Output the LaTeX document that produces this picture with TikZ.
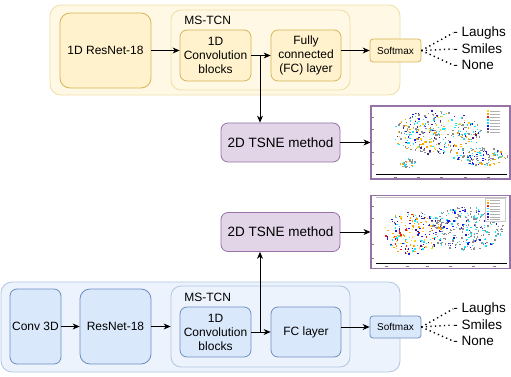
\documentclass[tikz,border=0pt]{standalone}
\usepackage{fontspec}
\setmainfont{Liberation Sans}
\usetikzlibrary{arrows.meta}

% box colours
\definecolor{ylwFill}{HTML}{FFF2CC}
\definecolor{ylwLine}{HTML}{D6B656}
\definecolor{ylwOuter}{HTML}{FFF8E4}
\definecolor{ylwOuterLine}{HTML}{F0DDA4}
\definecolor{bluFill}{HTML}{DAE8FC}
\definecolor{bluLine}{HTML}{6C8EBF}
\definecolor{bluOuter}{HTML}{EDF3FD}
\definecolor{bluOuterLine}{HTML}{AFC5E2}
\definecolor{purFill}{HTML}{E1D5E7}
\definecolor{purLine}{HTML}{9673A6}
% scatter colours
\definecolor{tsneGray}{HTML}{8C8C8C}
\definecolor{tsneCyan}{HTML}{18E6F2}
\definecolor{tsneOrange}{HTML}{FFA500}
\definecolor{tsneYellow}{HTML}{FFD21E}
\definecolor{tsneBlue}{HTML}{1A1AF0}
\definecolor{tsneRed}{HTML}{F01818}
\definecolor{tsnePurple}{HTML}{4B1A8C}

\tikzset{
  basebox/.style={draw, align=center, inner sep=1pt, font=\fontsize{12}{14}\selectfont},
  ylwbox/.style={basebox, fill=ylwFill, draw=ylwLine, rounded corners=7pt},
  blubox/.style={basebox, fill=bluFill, draw=bluLine, rounded corners=7pt},
  ylwgroup/.style={draw=ylwOuterLine, fill=ylwOuter, rounded corners=11pt},
  blugroup/.style={draw=bluOuterLine, fill=bluOuter, rounded corners=11pt},
  softbox/.style={basebox, rounded corners=3pt, font=\fontsize{10}{12}\selectfont},
  tsnebox/.style={basebox, fill=purFill, draw=purLine, rounded corners=7pt,
    minimum width=119pt, minimum height=39pt, font=\fontsize{13.5}{15}\selectfont},
  plotframe/.style={draw=purLine, line width=1.1pt, fill=white,
    minimum width=139pt, minimum height=73pt, inner sep=0pt},
  classlbl/.style={anchor=west, inner sep=0pt, font=\fontsize{13.5}{15}\selectfont},
  arr/.style={-{Stealth[length=7pt,width=6pt]}, line width=0.8pt},
  fan/.style={line width=1.4pt, dash pattern=on 1.3pt off 3.2pt},
}

% random cloud of t-SNE dots: n, cx, cy, rx, ry, colour list, list length
\newcommand{\tsnecloud}[7]{%
  \foreach \k in {1,...,#1}{%
    \pgfmathsetmacro{\dota}{360*rnd}%
    \pgfmathsetmacro{\dotr}{sqrt(rnd)}%
    \pgfmathsetmacro{\dotx}{#2+#4*\dotr*cos(\dota)}%
    \pgfmathsetmacro{\doty}{#3+#5*\dotr*sin(\dota)}%
    \pgfmathparse{{#6}[int(#7*rnd)]}%
    \edef\dotcol{\pgfmathresult}%
    \fill[\dotcol] (\dotx,\doty) rectangle ++(1.4,1.4);%
  }}

\begin{document}
\begin{tikzpicture}[x=1pt, y=-1pt, line width=0.8pt]
    \useasboundingbox (0,0) rectangle (511,377);
    \pgfmathsetseed{11}

    % ---------- top branch (yellow) ----------
    \node[ylwgroup, minimum width=350pt, minimum height=90pt] (outer1) at (225,50) {};
    \node[ylwbox, minimum width=91pt, minimum height=75pt, rounded corners=10pt] (resnet1) at (105.5,50.5) {1D ResNet-18};
    \node[ylwgroup, rounded corners=10pt, minimum width=179pt, minimum height=80pt] (tcn1) at (260.5,50) {};
    \node[anchor=west, inner sep=0pt, font=\fontsize{12}{14}\selectfont] (tcnlbl1) at (184,20) {MS-TCN};
    \node[ylwbox, minimum width=71pt, minimum height=51pt] (conv1) at (215.5,55.5) {1D\\Convolution\\blocks};
    \node[ylwbox, minimum width=70pt, minimum height=51pt] (fc1) at (306,55.5) {Fully\\connected\\(FC) layer};
    \node[softbox, fill=ylwFill, draw=ylwLine, minimum width=51pt, minimum height=23pt] (soft1) at (395.5,50.5) {Softmax};
    \node[classlbl] (laugh1) at (453,33) {- Laughs};
    \node[classlbl] (smile1) at (453,49) {- Smiles};
    \node[classlbl] (none1) at (453,65) {- None};

    \draw[arr] (resnet1.east) -- (resnet1.east -| conv1.west);
    \draw[arr] (conv1) -- (fc1);
    \draw[arr] (fc1.east |- soft1.west) -- (soft1.west);
    \draw[fan] (soft1.east) -- (laugh1.west);
    \draw[fan] (soft1.east) -- (smile1.west);
    \draw[fan] (soft1.east) -- (none1.west);

    % ---------- t-SNE of the top branch ----------
    \node[tsnebox] (tsne1) at (280.5,142.5) {2D TSNE method};
    \node[plotframe] (plot1) at (440.5,142.5) {};
    \coordinate (split1) at (260,55.5);
    \draw[arr] (split1) -- (split1 |- tsne1.north);
    \draw[arr] (tsne1.east) -- (tsne1.east -| plot1.west);

    \begin{scope}
      \clip (374,107) rectangle (508,173);
      \tsnecloud{320}{436}{132}{45}{22}{"tsneGray","tsneCyan","tsneOrange","tsneBlue","tsneYellow","tsneGray","tsneCyan","tsnePurple","tsneGray"}{9}
      \tsnecloud{120}{480}{156}{27}{9}{"tsneGray","tsneCyan","tsneBlue","tsneGray","tsneOrange"}{5}
      \tsnecloud{26}{407}{163}{8}{5}{"tsneGray","tsneGray","tsneCyan","tsneOrange"}{4}
    \end{scope}
    \draw[line width=0.8pt] (376,174) -- (507,174);
    \foreach \t in {117,129,152,164} \draw[gray, line width=0.5pt] (371,\t) -- (374,\t);
    \foreach \t in {395,418,441,465,488} \draw[gray, line width=0.5pt] (\t-1.5,177) -- (\t+1.5,177);
    \foreach \c [count=\r] in {tsneYellow,tsneOrange,tsneRed,tsneCyan,tsneCyan,tsneBlue,tsnePurple,tsneGray}{
      \fill[\c] (487,107+3*\r) rectangle ++(1.6,1.6);
      \draw[gray!60, line width=0.6pt] (490,108+3*\r) -- (500,108+3*\r);
    }

    % ---------- bottom branch (blue) ----------
    \node[blugroup, minimum width=399pt, minimum height=90pt] (outer2) at (200.5,327) {};
    \node[blubox, minimum width=51pt, minimum height=75pt] (conv3d) at (35.5,326.5) {Conv 3D};
    \node[blubox, minimum width=71pt, minimum height=75pt, rounded corners=10pt] (resnet2) at (115.5,326.5) {ResNet-18};
    \node[blugroup, rounded corners=10pt, minimum width=179pt, minimum height=81pt] (tcn2) at (260.5,326.5) {};
    \node[anchor=west, inner sep=0pt, font=\fontsize{12}{14}\selectfont] (tcnlbl2) at (184,297) {MS-TCN};
    \node[blubox, minimum width=71pt, minimum height=50pt] (conv2) at (215.5,332) {1D\\Convolution\\blocks};
    \node[blubox, minimum width=70pt, minimum height=50pt] (fc2) at (306,332) {FC layer};
    \node[softbox, fill=bluFill, draw=bluLine, minimum width=51pt, minimum height=22pt] (soft2) at (395.5,327) {Softmax};
    \node[classlbl] (laugh2) at (453,309) {- Laughs};
    \node[classlbl] (smile2) at (453,325) {- Smiles};
    \node[classlbl] (none2) at (453,341) {- None};

    \draw[arr] (conv3d) -- (resnet2);
    \draw[arr] (resnet2.east) -- (resnet2.east -| tcn2.west);
    \draw[arr] (conv2) -- (fc2);
    \draw[arr] (fc2.east |- soft2.west) -- (soft2.west);
    \draw[fan] (soft2.east) -- (laugh2.west);
    \draw[fan] (soft2.east) -- (smile2.west);
    \draw[fan] (soft2.east) -- (none2.west);

    % ---------- t-SNE of the bottom branch ----------
    \node[tsnebox] (tsne2) at (280.5,232) {2D TSNE method};
    \node[plotframe] (plot2) at (440.5,232) {};
    \coordinate (split2) at (260,332);
    \draw[arr] (split2) -- (split2 |- tsne2.south);
    \draw[arr] (tsne2.east) -- (tsne2.east -| plot2.west);

    \begin{scope}
      \clip (374,198) rectangle (508,262);
      \tsnecloud{200}{412}{232}{29}{22}{"tsneOrange","tsneYellow","tsneBlue","tsnePurple","tsneOrange","tsneRed","tsneCyan"}{7}
      \tsnecloud{290}{466}{228}{38}{22}{"tsneGray","tsneCyan","tsneGray","tsneBlue","tsneCyan","tsneGray"}{6}
    \end{scope}
    \draw[line width=0.8pt] (376,263) -- (507,263);
    \draw[gray!50, line width=0.6pt] (376,197) -- (507,197);
    \foreach \t in {206,218,244,258} \draw[gray, line width=0.5pt] (371,\t) -- (374,\t);
    \foreach \t in {386,407,427,450,473,494} \draw[gray, line width=0.5pt] (\t-1.5,266) -- (\t+1.5,266);
    \draw[gray!40, fill=white, line width=0.5pt] (485,198) rectangle (505,221);
    \foreach \c [count=\r] in {tsneYellow,tsneOrange,tsneRed,tsneCyan,tsneCyan,tsneBlue,tsnePurple,tsneGray}{
      \fill[\c] (487,197+2.7*\r) rectangle ++(1.6,1.6);
      \draw[gray!60, line width=0.6pt] (490,198+2.7*\r) -- (500,198+2.7*\r);
    }

\end{tikzpicture}
\end{document}
